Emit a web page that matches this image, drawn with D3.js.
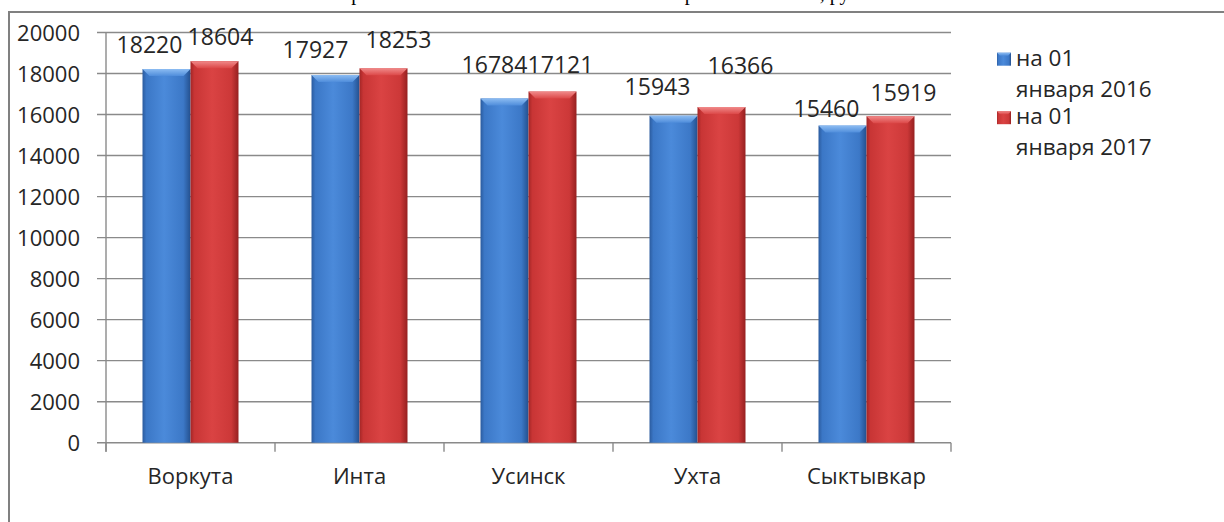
<!DOCTYPE html>
<html>
<head>
<meta charset="utf-8">
<script src="https://cdn.jsdelivr.net/npm/d3@7"></script>
<style>
  html, body { margin: 0; padding: 0; background: #fff; overflow: hidden; }
  svg { display: block; }
</style>
</head>
<body>
<svg id="chart" width="1224" height="522"></svg>
<script>
// ---- data ----
const titleText = "Сравнение номинальной начисленной заработной платы, руб.";
const categories = ["Воркута", "Инта", "Усинск", "Ухта", "Сыктывкар"];
const seriesNames = ["на 01 января 2016", "на 01 января 2017"];
const legendLines = [["на 01", "января 2016"], ["на 01", "января 2017"]];
const values2016 = [18220, 17927, 16784, 15943, 15460];
const values2017 = [18604, 18253, 17121, 16366, 15919];
const yTicks = [0, 2000, 4000, 6000, 8000, 10000, 12000, 14000, 16000, 18000, 20000];
// manual label nudges (dx, dy) as placed in the original
const labelNudge2016 = [[-17, 0], [-20, -1], [-10, -9], [-16, -5], [-16, 7]];
const labelNudge2017 = [[6, 0], [15, -4], [8, -3], [19, -17], [13, 1]];

// ---- layout ----
const svg = d3.select("#chart");
const plot = { left: 106, right: 951, top: 32.5, bottom: 442.7 };
const font = "'Open Sans', 'DejaVu Sans', sans-serif";
const textColor = "#262626";
const gridColor = "#8a8a8a";

const defs = svg.append("defs");
function hGrad(id, stops) {
  const g = defs.append("linearGradient").attr("id", id)
    .attr("x1", "0").attr("y1", "0").attr("x2", "1").attr("y2", "0");
  stops.forEach(s => g.append("stop").attr("offset", s[0]).attr("stop-color", s[1]));
}
function vGrad(id, stops) {
  const g = defs.append("linearGradient").attr("id", id)
    .attr("x1", "0").attr("y1", "0").attr("x2", "0").attr("y2", "1");
  stops.forEach(s => g.append("stop").attr("offset", s[0]).attr("stop-color", s[1]));
}
hGrad("blueBody", [[0, "#2b5b9e"], [0.08, "#3b77c6"], [0.45, "#4b8ada"], [0.85, "#3c78c7"], [1, "#24508e"]]);
hGrad("redBody", [[0, "#a32626"], [0.08, "#c83535"], [0.45, "#da4343"], [0.85, "#cc3838"], [1, "#962020"]]);
vGrad("blueTop", [[0, "#8cbcf2"], [1, "#4f8ddb"]]);
vGrad("redTop", [[0, "#f08a8a"], [1, "#dc4848"]]);

// partial title (cut off at the top in the original)
svg.append("text")
  .attr("x", 338).attr("y", -0.5)
  .attr("font-family", "'Liberation Serif', 'Times New Roman', serif")
  .attr("font-size", 20)
  .attr("fill", "#000")
  .text(titleText);

// outer border
svg.append("rect")
  .attr("x", 9).attr("y", 12).attr("width", 1240).attr("height", 530)
  .attr("fill", "#fff").attr("stroke", "#808080").attr("stroke-width", 2);

const y = d3.scaleLinear().domain([0, 20000]).range([plot.bottom, plot.top]);
const x0 = d3.scaleBand().domain(categories).range([plot.left, plot.right]).padding(0);
const groupW = x0.bandwidth() * 0.568;
const x1 = d3.scaleBand().domain(seriesNames).range([0, groupW]).padding(0);

// gridlines
svg.append("g").selectAll("line").data(yTicks).join("line")
  .attr("x1", plot.left - 9).attr("x2", plot.right)
  .attr("y1", d => y(d)).attr("y2", d => y(d))
  .attr("stroke", gridColor).attr("stroke-width", 1.4);

// y axis line
svg.append("line")
  .attr("x1", plot.left).attr("x2", plot.left)
  .attr("y1", plot.top).attr("y2", plot.bottom + 9)
  .attr("stroke", gridColor).attr("stroke-width", 1.4);

// y axis labels
const yAxis = d3.axisLeft(y).tickValues(yTicks).tickSize(0).tickPadding(0).tickFormat(d3.format("d"));
const yg = svg.append("g").attr("transform", `translate(${plot.left - 26},0)`).call(yAxis);
yg.select(".domain").remove();
yg.selectAll("text").attr("font-family", font).attr("font-size", 22).attr("fill", textColor).attr("dy", "0.36em");

// x category ticks
const bounds = categories.map(c => x0(c)).concat([plot.right]);
svg.append("g").selectAll("line").data(bounds).join("line")
  .attr("x1", d => d).attr("x2", d => d)
  .attr("y1", plot.bottom).attr("y2", plot.bottom + 9)
  .attr("stroke", gridColor).attr("stroke-width", 1.4);

// x labels
svg.append("g").selectAll("text").data(categories).join("text")
  .attr("x", d => x0(d) + x0.bandwidth() / 2)
  .attr("y", 484)
  .attr("text-anchor", "middle")
  .attr("font-family", font).attr("font-size", 22).attr("fill", textColor)
  .text(d => d);

// bars
const series = [
  { name: seriesNames[0], values: values2016, body: "url(#blueBody)", top: "url(#blueTop)", nudge: labelNudge2016 },
  { name: seriesNames[1], values: values2017, body: "url(#redBody)", top: "url(#redTop)", nudge: labelNudge2017 }
];
const barsG = svg.append("g");
series.forEach(s => {
  categories.forEach((c, i) => {
    const v = s.values[i];
    const bx = x0(c) + (x0.bandwidth() - groupW) / 2 + x1(s.name);
    const bw = x1.bandwidth();
    const by = y(v);
    const bh = y(0) - by;
    barsG.append("rect")
      .attr("x", bx).attr("y", by).attr("width", bw).attr("height", bh)
      .attr("fill", s.body);
    const b = 7;
    barsG.append("path")
      .attr("d", `M${bx},${by} L${bx + bw},${by} L${bx + bw - b},${by + b} L${bx + b},${by + b} Z`)
      .attr("fill", s.top);
    // value label
    barsG.append("text")
      .attr("x", bx + bw / 2 + s.nudge[i][0])
      .attr("y", by - 16 + s.nudge[i][1])
      .attr("text-anchor", "middle")
      .attr("font-family", font).attr("font-size", 23).attr("fill", textColor)
      .text(v);
  });
});

// legend
const legend = svg.append("g");
const legendSwatch = ["url(#blueBody)", "url(#redBody)"];
const legendTop = ["url(#blueTop)", "url(#redTop)"];
legendLines.forEach((lines, i) => {
  const ly = 65.7 + i * 58.5;
  legend.append("rect").attr("x", 997).attr("y", ly - 13).attr("width", 14).attr("height", 13)
    .attr("fill", legendSwatch[i]);
  legend.append("path")
    .attr("d", `M997,${ly - 13} L1011,${ly - 13} L1008,${ly - 10} L1000,${ly - 10} Z`)
    .attr("fill", legendTop[i]);
  lines.forEach((t, j) => {
    legend.append("text")
      .attr("x", 1016).attr("y", ly + j * 31)
      .attr("font-family", font).attr("font-size", 22.5).attr("fill", textColor)
      .text(t);
  });
});
</script>
</body>
</html>
